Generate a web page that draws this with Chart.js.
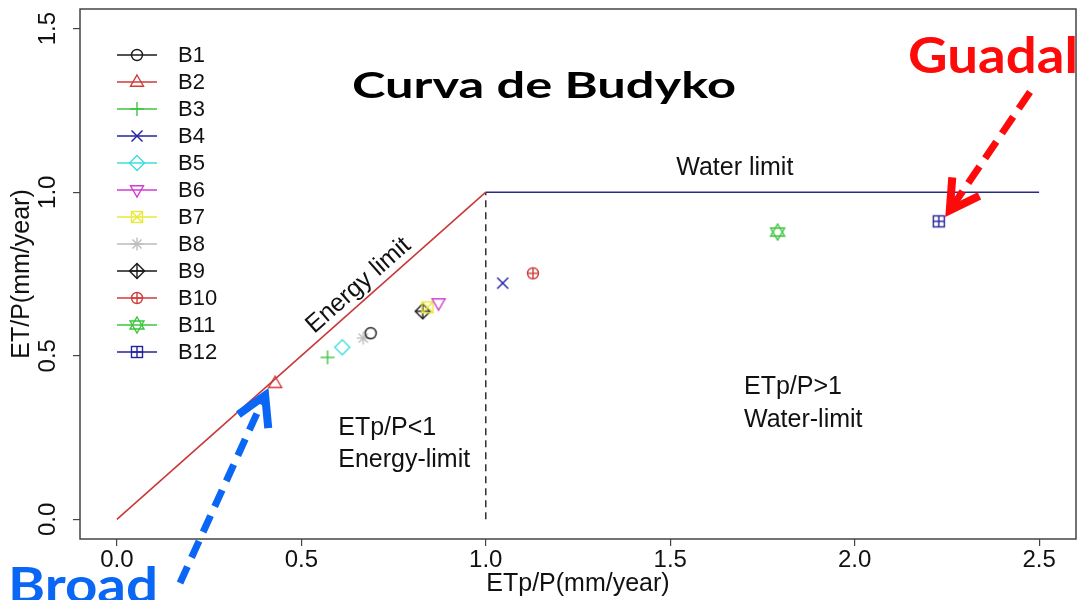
<!DOCTYPE html>
<html>
<head>
<meta charset="utf-8">
<title>Curva de Budyko</title>
<script src="https://cdn.jsdelivr.net/npm/chart.js@4.4.1/dist/chart.umd.min.js"></script>
<style>
  html, body { margin: 0; padding: 0; background: #fff; }
  #wrap { width: 1080px; height: 600px; }
</style>
</head>
<body>
<div id="wrap"><canvas id="budyko" width="1080" height="600"></canvas></div>
<script>
// values
const basins = ['B1', 'B2', 'B3', 'B4', 'B5', 'B6', 'B7', 'B8', 'B9', 'B10', 'B11', 'B12'];
const etpP = [0.688, 0.429, 0.571, 1.046, 0.611, 0.872, 0.842, 0.668, 0.829, 1.128, 1.791, 2.228];
const etP = [0.569, 0.416, 0.495, 0.722, 0.526, 0.661, 0.648, 0.554, 0.636, 0.752, 0.878, 0.911];
const basinColors = ['#1a1a1a', '#d13b3b', '#3cc43c', '#23239e', '#3fdcdc', '#d23cd2', '#e8e83a', '#bdbdbd',
                     '#1a1a1a', '#d13b3b', '#3cc43c', '#23239e'];
const basinShapes = ['circle', 'triUp', 'plus', 'cross', 'diamond', 'triDown', 'squareX', 'asterisk',
                     'diamondPlus', 'circlePlus', 'davidStar', 'squarePlus'];

// limit lines
const energyX = [0, 1];
const energyY = [0, 1];
const waterX = [1, 2.5];
const waterY = [1, 1];
const splitX = [1, 1];
const splitY = [0, 1];

const xTicks = [0, 0.5, 1, 1.5, 2, 2.5];
const xTickLabels = ['0.0', '0.5', '1.0', '1.5', '2.0', '2.5'];
const yTicks = [0, 0.5, 1, 1.5];
const yTickLabels = ['0.0', '0.5', '1.0', '1.5'];

const SANS = "'Liberation Sans', Arial, sans-serif";
Chart.defaults.font.family = SANS;
Chart.defaults.color = '#111';

// R style plotting symbols as little canvases
function marker(shape, color) {
    const c = document.createElement('canvas');
    c.width = 18; c.height = 18;
    const g = c.getContext('2d');
    g.strokeStyle = color;
    g.lineWidth = 1.4;
    const poly = pts => {
        g.beginPath();
        g.moveTo(pts[0][0], pts[0][1]);
        pts.slice(1).forEach(p => g.lineTo(p[0], p[1]));
        g.closePath();
        g.stroke();
    };
    const seg = (a, b, c2, d) => { g.beginPath(); g.moveTo(a, b); g.lineTo(c2, d); g.stroke(); };
    const circle = r => { g.beginPath(); g.arc(9, 9, r, 0, Math.PI * 2); g.stroke(); };
    const diamond = () => poly([[9, 1.5], [16.5, 9], [9, 16.5], [1.5, 9]]);

    switch (shape) {
        case 'circle': circle(5.5); break;
        case 'triUp': poly([[9, 2], [15.5, 13.2], [2.5, 13.2]]); break;
        case 'plus': seg(9, 2, 9, 16); seg(2, 9, 16, 9); break;
        case 'cross': seg(3.5, 3.5, 14.5, 14.5); seg(14.5, 3.5, 3.5, 14.5); break;
        case 'diamond': diamond(); break;
        case 'triDown': poly([[2.5, 4.8], [15.5, 4.8], [9, 16]]); break;
        case 'squareX':
            g.strokeRect(3.5, 3.5, 11, 11);
            seg(3.5, 3.5, 14.5, 14.5); seg(14.5, 3.5, 3.5, 14.5);
            break;
        case 'asterisk':
            seg(9, 2.5, 9, 15.5); seg(2.5, 9, 15.5, 9);
            seg(4.4, 4.4, 13.6, 13.6); seg(13.6, 4.4, 4.4, 13.6);
            break;
        case 'diamondPlus': diamond(); seg(9, 1.5, 9, 16.5); seg(1.5, 9, 16.5, 9); break;
        case 'circlePlus': circle(5.5); seg(9, 3.5, 9, 14.5); seg(3.5, 9, 14.5, 9); break;
        case 'davidStar':
            poly([[9, 1], [16, 13], [2, 13]]);
            poly([[2, 5], [16, 5], [9, 17]]);
            break;
        case 'squarePlus':
            g.strokeRect(3.5, 3.5, 11, 11);
            seg(9, 3.5, 9, 14.5); seg(3.5, 9, 14.5, 9);
            break;
    }
    return c;
}

const markers = basinShapes.map((s, i) => marker(s, basinColors[i]));

const toPoints = (xs, ys) => xs.map((x, i) => ({ x: x, y: ys[i] }));

const datasets = [
    { label: 'Energy limit', data: toPoints(energyX, energyY), showLine: true, borderColor: '#c83a3a', borderWidth: 1.6, pointRadius: 0 },
    { label: 'Water limit', data: toPoints(waterX, waterY), showLine: true, borderColor: '#2a2a8c', borderWidth: 1.6, pointRadius: 0 },
    { label: 'split', data: toPoints(splitX, splitY), showLine: true, borderColor: '#222', borderWidth: 1.4, borderDash: [7, 5], pointRadius: 0 }
];
basins.forEach((b, i) => {
    datasets.push({
        label: b,
        data: [{ x: etpP[i], y: etP[i] }],
        pointStyle: markers[i],
        pointRadius: 7,
        borderColor: basinColors[i],
        backgroundColor: basinColors[i]
    });
});

// text drawn with a horizontal stretch so it fills the given width
function fitText(ctx, str, x, y, font, width, color, align) {
    ctx.save();
    ctx.font = font;
    ctx.fillStyle = color;
    const w = ctx.measureText(str).width;
    const k = width / w;
    ctx.translate(x, y);
    ctx.scale(k, 1);
    ctx.textBaseline = 'alphabetic';
    ctx.textAlign = align || 'left';
    ctx.fillText(str, 0, 0);
    ctx.restore();
}

function dashedArrow(ctx, x0, y0, x1, y1, color, dash) {
    ctx.save();
    ctx.strokeStyle = color;
    ctx.lineWidth = 7;
    ctx.setLineDash(dash);
    ctx.beginPath();
    const ang = Math.atan2(y1 - y0, x1 - x0);
    ctx.moveTo(x0, y0);
    ctx.lineTo(x1 - Math.cos(ang) * 8, y1 - Math.sin(ang) * 8);
    ctx.stroke();
    // chevron head
    ctx.setLineDash([]);
    ctx.lineWidth = 8;
    ctx.lineJoin = 'miter';
    const back = ang + Math.PI;
    const L = 33;
    ctx.beginPath();
    ctx.moveTo(x1 + Math.cos(back - 0.52) * L, y1 + Math.sin(back - 0.52) * L);
    ctx.lineTo(x1, y1);
    ctx.lineTo(x1 + Math.cos(back + 0.52) * L, y1 + Math.sin(back + 0.52) * L);
    ctx.stroke();
    ctx.restore();
}

const framePlugin = {
    id: 'frame',
    beforeDatasetsDraw(chart) {
        const { ctx, chartArea: a } = chart;
        ctx.save();
        ctx.strokeStyle = '#444';
        ctx.lineWidth = 1.5;
        ctx.strokeRect(a.left, a.top, a.right - a.left, a.bottom - a.top);
        ctx.restore();
    }
};

const overlayPlugin = {
    id: 'overlay',
    afterDraw(chart) {
        const { ctx, scales: { x, y } } = chart;
        ctx.save();

        // rotated y tick labels, R style
        ctx.font = '24px ' + SANS;
        ctx.fillStyle = '#111';
        ctx.textAlign = 'center';
        ctx.textBaseline = 'alphabetic';
        yTicks.forEach((v, i) => {
            ctx.save();
            ctx.translate(55, y.getPixelForValue(v));
            ctx.rotate(-Math.PI / 2);
            ctx.fillText(yTickLabels[i], 0, 0);
            ctx.restore();
        });

        // legend
        ctx.textAlign = 'left';
        ctx.textBaseline = 'middle';
        ctx.font = '22px ' + SANS;
        basins.forEach((b, i) => {
            const ry = 55 + i * 27;
            ctx.strokeStyle = basinColors[i];
            ctx.lineWidth = 1.3;
            ctx.beginPath();
            ctx.moveTo(117, ry);
            ctx.lineTo(157, ry);
            ctx.stroke();
            ctx.drawImage(markers[i], 137 - 9, ry - 9);
            ctx.fillStyle = '#111';
            ctx.fillText(b, 178, ry + 1);
        });

        // annotations inside the plot
        ctx.font = '25px ' + SANS;
        ctx.fillStyle = '#111';
        ctx.textAlign = 'center';
        ctx.fillText('Water limit', x.getPixelForValue(1.675), y.getPixelForValue(1.073));
        ctx.textAlign = 'left';
        ctx.fillText('ETp/P<1', x.getPixelForValue(0.6), y.getPixelForValue(0.28));
        ctx.fillText('Energy-limit', x.getPixelForValue(0.6), y.getPixelForValue(0.18));
        ctx.fillText('ETp/P>1', x.getPixelForValue(1.7), y.getPixelForValue(0.404));
        ctx.fillText('Water-limit', x.getPixelForValue(1.7), y.getPixelForValue(0.303));

        const ang = Math.atan2(y.getPixelForValue(1) - y.getPixelForValue(0), x.getPixelForValue(1) - x.getPixelForValue(0));
        ctx.save();
        ctx.translate(x.getPixelForValue(0.655), y.getPixelForValue(0.715));
        ctx.rotate(ang);
        ctx.textAlign = 'center';
        ctx.fillText('Energy limit', 0, 0);
        ctx.restore();

        // title and callouts
        fitText(ctx, 'Curva de Budyko', 544, 98, 'bold 37px Lato', 384, '#000', 'center');
        fitText(ctx, 'Guadal', 908, 73, 'bold 50px Lato', 170, '#ff0a0a');
        fitText(ctx, 'Broad', 8, 603, 'bold 50px Lato', 150, '#0a66f5');

        const b2x = x.getPixelForValue(etpP[1]), b2y = y.getPixelForValue(etP[1]);
        dashedArrow(ctx, 180, 583, b2x - 10, b2y + 12, '#0a66f5', [18, 10]);
        const b12x = x.getPixelForValue(etpP[11]), b12y = y.getPixelForValue(etP[11]);
        dashedArrow(ctx, 1030, 92, b12x + 11, b12y - 11, '#ff0a0a', [20, 10]);

        ctx.restore();
    }
};

new Chart(document.getElementById('budyko'), {
    type: 'scatter',
    data: { datasets: datasets },
    options: {
        responsive: false,
        animation: false,
        events: [],
        layout: { autoPadding: false, padding: { top: 9, right: 4, left: 0, bottom: 0 } },
        plugins: {
            legend: { display: false },
            tooltip: { enabled: false }
        },
        scales: {
            x: {
                type: 'linear',
                min: -0.1,
                max: 2.6,
                afterBuildTicks: s => { s.ticks = xTicks.map(v => ({ value: v })); },
                afterFit: s => { s.height = 61; s.paddingLeft = 0; s.paddingRight = 0; },
                border: { display: false },
                grid: { drawOnChartArea: false, drawTicks: true, tickLength: 7, color: '#444', lineWidth: 1.2 },
                ticks: {
                    font: { size: 24 },
                    color: '#111',
                    padding: 0,
                    maxRotation: 0,
                    callback: (v, i) => xTickLabels[i]
                },
                title: { display: true, text: 'ETp/P(mm/year)', font: { size: 25 }, color: '#111', padding: { top: 0, bottom: 1 } }
            },
            y: {
                type: 'linear',
                min: -0.06,
                max: 1.56,
                afterBuildTicks: s => { s.ticks = yTicks.map(v => ({ value: v })); },
                afterFit: s => { s.width = 80; s.paddingTop = 0; s.paddingBottom = 0; },
                border: { display: false },
                grid: { drawOnChartArea: false, drawTicks: true, tickLength: 7, color: '#444', lineWidth: 1.2 },
                ticks: { display: false },
                title: { display: true, text: 'ET/P(mm/year)', font: { size: 25 }, color: '#111', padding: { top: 7, bottom: 0 } }
            }
        }
    },
    plugins: [framePlugin, overlayPlugin]
});
</script>
</body>
</html>
